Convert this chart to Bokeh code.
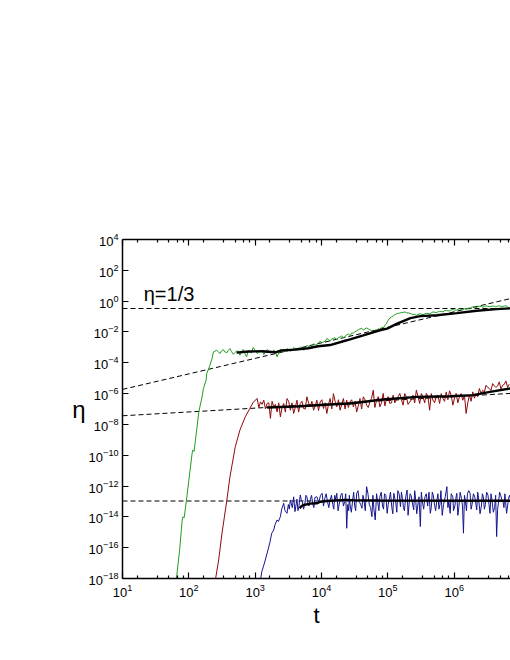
import numpy as np
from bokeh.plotting import figure
from bokeh.models import (FixedTicker, LogAxis, Label, LogTickFormatter, Range1d)
from bokeh.embed import file_html
from bokeh.resources import INLINE

FONT = "Liberation Sans"

# ---------------- data (log10 values) ----------------
x_major_exp = [1, 2, 3, 4, 5, 6, 7]
x_minor_mult = [5 / 3, 10 / 3, 5, 20 / 3, 25 / 3]
y_major_exp = [-18, -16, -14, -12, -10, -8, -6, -4, -2, 0, 2, 4]

green_logt = [1.81, 1.86, 1.90, 1.91, 1.93, 1.97, 2.05, 2.06, 2.08, 2.15, 2.20, 2.22, 2.26, 2.27,
              2.31, 2.35, 2.37,
              2.42, 2.47, 2.52, 2.57, 2.62, 2.67, 2.72, 2.77, 2.82, 2.87, 2.92, 2.97, 3.03, 3.08,
              3.13, 3.18, 3.23, 3.28, 3.33, 3.38, 3.43, 3.48, 3.53, 3.58, 3.63, 3.68, 3.73, 3.78,
              3.83, 3.88, 3.93, 3.98, 4.03, 4.08,
              4.13, 4.18, 4.23, 4.28, 4.33, 4.38, 4.43, 4.48, 4.53, 4.58, 4.63, 4.68, 4.73, 4.78,
              4.83, 4.88, 4.93, 4.98, 5.03, 5.08, 5.13, 5.18, 5.23, 5.28, 5.33, 5.38, 5.43, 5.48,
              5.53, 5.58, 5.63, 5.68, 5.73, 5.78, 5.83, 5.88, 5.93, 5.98, 6.03, 6.08, 6.13, 6.18,
              6.23, 6.28, 6.33, 6.38, 6.43, 6.48, 6.53, 6.58, 6.63, 6.68, 6.73, 6.78, 6.83]
green_logeta = [-18.1, -16.2, -14.2, -14.0, -14.05, -12.7, -9.86, -9.67, -9.75, -7.19, -6.21, -5.67,
                -5.13, -4.70, -4.27, -3.73, -3.30,
                -3.19, -3.40, -3.14, -3.36, -3.08, -3.45, -3.23, -3.51, -3.14, -3.62, -3.30, -3.01,
                -3.40, -3.25, -3.47, -3.14, -3.36, -3.19, -3.62, -3.14, -3.30, -3.08, -3.25, -3.01,
                -3.19, -2.97, -3.19, -2.87, -3.01, -2.76, -2.82, -2.59, -2.65, -2.43,
                -2.60, -2.42, -2.52, -2.33, -2.40, -2.20, -2.24, -2.08, -1.93, -1.80, -1.88, -1.74,
                -1.86, -2.02, -1.95, -1.84, -1.74, -1.45, -1.10, -0.96, -0.83, -0.77, -0.73, -0.75,
                -0.79, -0.88, -0.92, -0.83, -0.88, -0.79, -0.83, -0.70, -0.75, -0.66, -0.70, -0.60,
                -0.64, -0.55, -0.60, -0.50, -0.57, -0.48, -0.52, -0.38, -0.42, -0.33, -0.40, -0.31,
                -0.36, -0.32, -0.38, -0.31, -0.35, -0.30, -0.46]
# extra readings between the points above (fine-grained noise)
green_extra_logt = [2.445, 2.495, 2.545, 2.595, 2.645, 2.695, 2.745, 2.795, 2.845, 2.895, 2.945,
                    3.000, 3.055, 3.105, 3.155, 3.205, 3.255, 3.305, 3.355, 3.405, 3.455, 3.505,
                    3.555, 3.605, 3.655, 3.705, 3.755, 3.805, 3.855, 3.905, 3.955, 4.005, 4.055,
                    4.105, 4.155, 4.205, 4.255, 4.305, 4.355, 4.405, 4.455, 4.505, 4.555, 4.605,
                    4.655, 4.705, 4.755, 4.805, 4.855, 4.905, 4.955, 5.005, 5.055, 5.105, 5.155,
                    5.205, 5.255, 5.305, 5.355, 5.405, 5.455, 5.505, 5.555, 5.605, 5.655, 5.705,
                    5.755, 5.805, 5.855, 5.905, 5.955, 6.005, 6.055, 6.105, 6.155, 6.205, 6.255,
                    6.305, 6.355, 6.405, 6.455, 6.505, 6.555, 6.605, 6.655, 6.705, 6.755, 6.805]
green_extra_logeta = [-3.28, -3.22, -3.30, -3.20, -3.28, -3.34, -3.25, -3.30, -3.40, -3.22, -3.35,
                      -3.20, -3.30, -3.22, -3.30, -3.22, -3.30, -3.28, -3.35, -3.20, -3.25, -3.15,
                      -3.20, -3.10, -3.12, -3.05, -3.02, -2.95, -2.90, -2.85, -2.72, -2.70, -2.60,
                      -2.48, -2.45, -2.38, -2.36, -2.25, -2.28, -2.12, -2.06, -1.98, -1.86, -1.76,
                      -1.80, -1.80, -1.92, -1.90, -1.78, -1.70, -1.58, -1.25, -1.02, -0.88, -0.80,
                      -0.74, -0.70, -0.76, -0.82, -0.86, -0.85, -0.84, -0.82, -0.80, -0.76, -0.72,
                      -0.70, -0.67, -0.62, -0.62, -0.57, -0.57, -0.54, -0.52, -0.50, -0.47, -0.40,
                      -0.37, -0.36, -0.35, -0.34, -0.33, -0.34, -0.33, -0.32, -0.33, -0.31, -0.35]

green_fit_logt = [2.72, 2.90, 3.10, 3.30, 3.40, 3.60, 3.80, 3.95, 4.13, 4.38, 4.63, 4.88, 4.99,
                  5.14, 5.34, 5.49, 5.74, 6.04, 6.34, 6.64, 6.85]
green_fit_logeta = [-3.34, -3.27, -3.25, -3.32, -3.20, -3.15, -3.06, -2.93, -2.85, -2.54, -2.22,
                    -1.89, -1.78, -1.46, -1.10, -0.97, -0.92, -0.78, -0.62, -0.52, -0.47]

red_logt = [2.40, 2.45, 2.50, 2.57, 2.62, 2.70, 2.77, 2.85, 2.92, 2.97, 3.03,
            3.08, 3.13, 3.18, 3.23, 3.28, 3.33, 3.38, 3.43, 3.48, 3.53, 3.58, 3.63, 3.68, 3.73,
            3.78, 3.83, 3.88, 3.93, 3.98, 4.03, 4.08, 4.13, 4.18, 4.23, 4.28, 4.33, 4.38,
            4.43, 4.48, 4.53, 4.58, 4.63, 4.68, 4.73, 4.78, 4.83, 4.88, 4.93, 4.98, 5.03, 5.08,
            5.13, 5.18, 5.23, 5.28, 5.33, 5.38, 5.43, 5.48, 5.53, 5.58, 5.63, 5.68, 5.73, 5.78,
            5.83, 5.88, 5.93, 5.98, 6.03, 6.08, 6.13, 6.18, 6.23, 6.28, 6.33, 6.38, 6.43, 6.48,
            6.53, 6.58, 6.63, 6.68, 6.73, 6.78, 6.83]
red_logeta = [-18.1, -16.79, -15.06, -13.01, -11.40, -9.45, -8.37, -7.51, -6.97, -6.56, -6.32,
              -6.54, -6.43, -6.64, -7.61, -6.86, -7.19, -7.51, -6.64, -6.32, -7.08, -7.29, -6.43,
              -6.64, -6.97, -6.21, -6.86, -7.08, -6.43, -6.54, -6.97, -7.29, -6.32, -6.00, -6.86,
              -7.08, -6.32, -6.43,
              -6.54, -6.86, -7.19, -6.32, -6.21, -6.75, -6.54, -5.78, -6.43, -6.86, -5.99, -6.32,
              -6.64, -6.10, -6.38, -5.99, -6.75, -6.21, -6.54, -6.10, -5.78, -6.64, -6.21, -5.99,
              -7.08, -6.43, -6.17, -6.64, -6.32, -5.89, -5.82, -6.75, -5.99, -6.21, -6.43, -7.29,
              -6.10, -5.89, -5.99, -5.67, -5.78, -5.46, -5.67, -5.35, -5.60, -5.24, -5.46, -5.18,
              -5.39]
red_extra_logt = [3.055, 3.105, 3.155, 3.205, 3.255, 3.305, 3.355, 3.405, 3.455, 3.505, 3.555,
                  3.605, 3.655, 3.705, 3.755, 3.805, 3.855, 3.905, 3.955, 4.005, 4.055, 4.105,
                  4.155, 4.205, 4.255, 4.305, 4.355, 4.405, 4.455, 4.505, 4.555, 4.605, 4.655,
                  4.705, 4.755, 4.805, 4.855, 4.905, 4.955, 5.005, 5.055, 5.105, 5.155, 5.205,
                  5.255, 5.305, 5.355, 5.405, 5.455, 5.505, 5.555, 5.605, 5.655, 5.705, 5.755,
                  5.805, 5.855, 5.905, 5.955, 6.005, 6.055, 6.105, 6.155, 6.205, 6.255, 6.305,
                  6.355, 6.405, 6.455, 6.505, 6.555, 6.605, 6.655, 6.705, 6.755, 6.805]
red_extra_logeta = [-6.9, -6.7, -7.0, -6.6, -6.5, -6.7, -6.6, -6.9, -7.2, -6.5, -6.6,
                    -6.9, -7.2, -6.5, -7.0, -6.6, -6.5, -6.8, -7.1, -6.4, -6.6, -6.7,
                    -7.0, -6.5, -6.4, -6.7, -7.0, -6.9, -6.4, -6.5, -6.8, -7.0, -6.4,
                    -6.9, -6.3, -6.9, -6.2, -6.6, -6.8, -6.2, -6.6, -6.6, -6.2, -6.4,
                    -6.0, -6.7, -6.4, -6.6, -6.2, -6.0, -6.6, -6.2, -6.0, -6.6, -6.1,
                    -6.0, -6.5, -6.4, -6.1, -6.3, -6.6, -6.0, -6.1, -6.6, -6.5, -6.3,
                    -6.2, -6.0, -5.9, -5.6, -5.8, -5.5, -5.5, -5.7, -5.4, -5.6]

red_fit_logt = [3.18, 3.68, 4.18, 4.43, 4.93, 5.44, 5.94, 6.29, 6.54, 6.85]
red_fit_logeta = [-6.90, -6.82, -6.69, -6.64, -6.38, -6.21, -6.17, -6.10, -5.89, -5.66]

blue_logt = [3.08, 3.10, 3.14, 3.18, 3.22, 3.25, 3.28, 3.30, 3.33, 3.35, 3.38, 3.40, 3.43, 3.45,
             3.48, 3.50, 3.53, 3.56, 3.60, 3.63, 3.66, 3.68, 3.71, 3.75, 3.78, 3.81, 3.83, 3.87,
             3.90, 3.93, 3.96, 4.01, 4.05, 4.09, 4.13, 4.17, 4.20, 4.23, 4.27, 4.31, 4.35, 4.38,
             4.41, 4.43, 4.47, 4.50, 4.53, 4.57, 4.61, 4.64, 4.68, 4.72, 4.76, 4.79, 4.81, 4.85,
             4.88, 4.92, 4.95, 4.99, 5.02, 5.06, 5.09, 5.12, 5.15, 5.19, 5.22, 5.25, 5.29, 5.32,
             5.35, 5.39, 5.42, 5.45, 5.49, 5.52, 5.56, 5.60, 5.64, 5.67, 5.70, 5.74, 5.77, 5.80,
             5.84, 5.89, 5.92, 5.94, 5.98, 6.01, 6.04, 6.07, 6.11, 6.14, 6.17, 6.20, 6.24, 6.27,
             6.31, 6.34, 6.37, 6.41, 6.44, 6.47, 6.51, 6.54, 6.57, 6.61, 6.64, 6.67, 6.70, 6.72,
             6.75, 6.79, 6.82, 6.85]
blue_logeta = [-18.1, -17.55, -17.0, -16.36, -15.7, -15.06, -14.85, -14.5, -14.20, -14.3, -13.99,
               -13.5, -13.12, -13.6, -13.77, -13.2, -12.90, -13.4, -13.66, -12.85, -13.3, -12.58,
               -13.0, -13.12, -12.7, -13.3, -12.90, -13.2, -12.75, -12.69, -13.05, -12.47, -12.8,
               -13.0, -12.90, -13.2, -12.6, -12.47, -13.1, -12.47, -13.0, -14.74, -13.6, -13.23,
               -12.9, -13.3, -12.47, -13.0, -13.44, -12.9, -12.04, -13.2, -13.99, -13.5, -14.20,
               -13.1, -12.69, -13.3, -12.5, -13.77, -12.9, -13.4, -12.47, -13.1, -12.3, -13.34,
               -12.8, -13.6, -12.26, -13.2, -12.6, -13.55, -12.9, -13.3, -14.63, -13.0, -12.69,
               -13.3, -13.77, -12.4, -13.1, -12.90, -13.5, -12.3, -13.2, -12.04, -13.0, -13.77,
               -12.7, -13.3, -12.47, -13.4, -12.8, -15.06, -13.0, -12.5, -12.47, -13.2, -12.7,
               -13.55, -12.9, -13.3, -12.69, -13.2, -12.6, -13.77, -12.9, -13.4, -15.28, -13.0,
               -12.6, -12.90, -13.4, -13.77, -12.8, -12.90]
blue_extra_logt = [3.515, 3.580, 3.645, 3.695, 3.730, 3.765, 3.795, 3.850, 3.885, 3.945, 3.985,
                   4.030, 4.070, 4.110, 4.150, 4.185, 4.215, 4.250, 4.290, 4.330, 4.365, 4.395,
                   4.420, 4.450, 4.485, 4.515, 4.550, 4.590, 4.625, 4.660, 4.700, 4.740, 4.775,
                   4.830, 4.865, 4.900, 4.935, 4.970, 5.005, 5.040, 5.075, 5.105, 5.135, 5.170,
                   5.205, 5.235, 5.270, 5.305, 5.335, 5.370, 5.405, 5.435, 5.470, 5.505, 5.540,
                   5.580, 5.620, 5.655, 5.685, 5.720, 5.755, 5.785, 5.820, 5.865, 5.905, 5.955,
                   5.990, 6.025, 6.055, 6.090, 6.125, 6.155, 6.185, 6.220, 6.255, 6.290, 6.325,
                   6.355, 6.390, 6.425, 6.455, 6.490, 6.525, 6.555, 6.590, 6.625, 6.655, 6.685,
                   6.735, 6.765, 6.805, 6.835]
blue_extra_logeta = [-13.5, -12.7, -13.6, -12.9, -13.5, -12.6, -13.1, -12.6, -13.4, -12.9, -12.6,
                     -13.3, -12.5, -13.4, -12.6, -13.5, -12.9, -13.6, -12.6, -13.3, -12.5, -13.2,
                     -12.6, -13.7, -12.4, -13.6, -12.3, -13.2, -12.6, -13.6, -12.5, -13.4, -12.6,
                     -12.5, -13.6, -12.4, -13.5, -12.6, -13.2, -12.4, -13.8, -12.8, -13.7, -12.5,
                     -12.4, -13.4, -12.7, -13.9, -12.5, -13.1, -12.3, -13.8, -12.7, -12.4, -13.5,
                     -12.5, -12.4, -13.4, -12.6, -13.6, -12.5, -13.2, -13.9, -12.7, -13.4, -12.5,
                     -13.6, -12.8, -13.9, -12.4, -13.3, -12.6, -13.6, -12.3, -13.5, -12.5, -13.1,
                     -12.4, -13.8, -12.5, -13.5, -12.4, -13.2, -12.5, -13.7, -12.6, -13.5, -12.4,
                     -13.0, -12.5, -13.3, -12.6]

blue_fit_logt = [3.67, 3.70, 3.73, 3.83, 3.93, 3.98, 4.08, 4.38, 4.50, 4.88, 6.85]
blue_fit_logeta = [-13.44, -13.30, -13.23, -13.14, -13.12, -13.02, -12.97, -12.90, -12.93, -12.94,
                   -12.95]

# dashed reference lines (end points at t = 10 and t = 1e7)
dash_logt = [1.0, 7.0]
dash_third_eta = [1 / 3, 1 / 3]
dash_green_logeta = [-5.73, 0.317]
dash_red_logeta = [-7.44, -5.95]
dash_blue_logeta = [-12.97, -12.97]

annot_text = "η=1/3"
x_title = "t"
y_title = "η"


def merged(lt, le, xt_, xe_):
    """Join the main readings with the extra readings, ordered by t, as (t, eta)."""
    a = np.array(lt + xt_)
    b = np.array(le + xe_)
    o = np.argsort(a, kind="stable")
    return np.power(10.0, a[o]), np.power(10.0, b[o])


# ---------------- figure ----------------
p = figure(x_axis_type="log", y_axis_type="log",
           x_range=Range1d(10, 10 ** 6.849), y_range=Range1d(1e-18, 1e4),
           frame_width=388, frame_height=339,
           min_border_left=122, min_border_top=239, min_border_right=0, min_border_bottom=60,
           output_backend="svg", toolbar_location=None)
p.grid.visible = False
p.outline_line_color = None
p.background_fill_color = "white"

xt = FixedTicker(ticks=[10.0 ** k for k in x_major_exp],
                 minor_ticks=[m * 10.0 ** k for k in x_major_exp[:-1] for m in x_minor_mult])
yt = FixedTicker(ticks=[10.0 ** k for k in y_major_exp], minor_ticks=[])


def style_axis(ax, ticker, labels=True):
    ax.ticker = ticker
    ax.formatter = LogTickFormatter()
    ax.axis_line_width = 1.5
    ax.axis_line_color = "black"
    ax.major_tick_in = 6
    ax.major_tick_out = 0
    ax.minor_tick_in = 3
    ax.minor_tick_out = 0
    ax.major_tick_line_width = 1.2
    ax.minor_tick_line_width = 1.2
    ax.major_tick_line_color = "black"
    ax.minor_tick_line_color = "black"
    ax.major_label_text_font = FONT
    ax.major_label_text_font_size = "13px"
    ax.major_label_text_color = "black" if labels else None
    ax.axis_label_text_font = FONT
    ax.axis_label_text_font_style = "normal"
    ax.axis_label_text_color = "black"


style_axis(p.xaxis[0], xt)
style_axis(p.yaxis[0], yt)
p.xaxis[0].major_label_standoff = 5
p.yaxis[0].major_label_standoff = 4
p.xaxis[0].axis_label = x_title
p.xaxis[0].axis_label_text_font_size = "22px"
p.xaxis[0].axis_label_standoff = 3
p.yaxis[0].axis_label = y_title
p.yaxis[0].axis_label_text_font_size = "24px"
p.yaxis[0].axis_label_standoff = 0
p.yaxis[0].axis_label_orientation = "horizontal"

top = LogAxis()
style_axis(top, xt, labels=False)
top.major_label_text_font_size = "0px"
top.major_label_standoff = 0
p.add_layout(top, "above")

dash = dict(line_color="black", line_width=1, line_dash="5 3")
t_d = np.power(10.0, dash_logt)
p.line(t_d, dash_third_eta, **dash)
p.line(t_d, np.power(10.0, dash_green_logeta), **dash)
p.line(t_d, np.power(10.0, dash_red_logeta), **dash)
p.line(t_d, np.power(10.0, dash_blue_logeta), **dash)

gt, ge = merged(green_logt, green_logeta, green_extra_logt, green_extra_logeta)
rt, re_ = merged(red_logt, red_logeta, red_extra_logt, red_extra_logeta)
bt, be = merged(blue_logt, blue_logeta, blue_extra_logt, blue_extra_logeta)
p.line(gt, ge, line_color="#1f9e1f", line_width=1)
p.line(rt, re_, line_color="#8e0a0a", line_width=1)
p.line(bt, be, line_color="#16168e", line_width=1)

fit = dict(line_color="black", line_width=2.4)
p.line(np.power(10.0, green_fit_logt), np.power(10.0, green_fit_logeta), **fit)
p.line(np.power(10.0, red_fit_logt), np.power(10.0, red_fit_logeta), **fit)
p.line(np.power(10.0, blue_fit_logt), np.power(10.0, blue_fit_logeta), **fit)

p.add_layout(Label(x=10 ** 1.32, y=10 ** 0.47, text=annot_text,
                   text_font=FONT, text_font_size="20px", text_align="left",
                   text_baseline="alphabetic", text_color="black"))

open("out.html", "w").write(file_html(p, INLINE))
